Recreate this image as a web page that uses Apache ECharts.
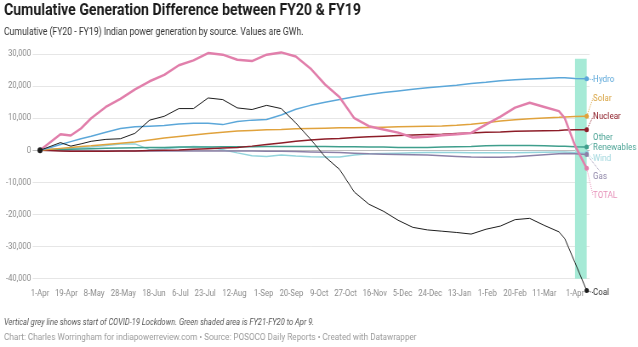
<!DOCTYPE html>
<html><head><meta charset="utf-8">
<script src="https://cdn.jsdelivr.net/npm/echarts@6/dist/echarts.min.js"></script>
<style>
html,body{margin:0;padding:0;background:#fff;overflow:hidden;width:638px;height:347px}
#c{width:750px;height:347px;transform:scaleX(0.850667);transform-origin:0 0;}
</style>
</head><body><div id="c"></div>
<script>
// ---- data ----
const dates = ['2019-04-01','2019-04-08','2019-04-15','2019-04-22','2019-04-29','2019-05-06','2019-05-16','2019-05-26','2019-06-05','2019-06-15','2019-06-25','2019-07-05','2019-07-15','2019-07-25','2019-08-04','2019-08-14','2019-08-24','2019-09-03','2019-09-13','2019-09-23','2019-10-03','2019-10-13','2019-10-23','2019-11-02','2019-11-12','2019-11-22','2019-12-02','2019-12-12','2019-12-22','2020-01-01','2020-01-11','2020-01-21','2020-01-31','2020-02-10','2020-02-20','2020-03-01','2020-03-11','2020-03-21','2020-03-25','2020-04-01','2020-04-09'];
const tickDates = ['2019-04-01','2019-04-19','2019-05-08','2019-05-28','2019-06-18','2019-07-06','2019-07-23','2019-08-12','2019-09-01','2019-09-20','2019-10-09','2019-10-27','2019-11-16','2019-12-05','2019-12-24','2020-01-13','2020-02-01','2020-02-20','2020-03-11','2020-04-01'];
const yTicks = [-40000,-30000,-20000,-10000,0,10000,20000,30000];
const hydro   = [0,900,1800,2700,3600,4400,5600,6800,7300,7500,7700,8200,8400,8400,8000,9000,9400,9600,11000,12800,14000,15000,15800,16700,17400,18000,18500,19000,19500,19900,20300,20800,21200,21700,22000,22200,22400,22600,22600,22400,22300];
const solar   = [0,300,600,900,1200,1400,1800,2200,2600,3200,3800,4300,4800,5200,5600,6000,6200,6400,6500,6700,6800,6900,7000,7000,7100,7200,7300,7400,7500,7600,7800,8100,8600,9100,9500,9800,10100,10300,10400,10500,10600];
const nuclear = [0,-100,-200,-300,-300,-300,-300,-200,-200,-100,0,100,300,500,700,900,1300,1800,2300,2800,3200,3500,3700,4000,4200,4400,4600,4800,4900,5000,5200,5400,5600,5700,5900,6000,6100,6200,6300,6400,6400];
const otherRen= [0,100,200,300,400,500,600,700,800,900,900,1000,1000,1000,1100,1100,1100,1200,1200,1200,1200,1200,1100,1100,1000,1000,900,900,900,1000,1100,1200,1400,1500,1500,1500,1400,1300,1300,1100,1000];
const wind    = [0,300,500,600,800,1000,1500,2000,2000,200,500,900,1200,1000,200,-800,-1700,-1900,-1500,-1800,-2000,-2100,-2100,-1500,-1100,-1000,-900,-800,-700,-700,-700,-800,-800,-800,-800,-700,-600,-500,-500,-700,-850];
const gas     = [0,-100,-100,-200,-200,-200,-200,-200,-200,-200,-200,-200,-200,-200,-200,-200,-200,-300,-300,-400,-500,-600,-700,-900,-1100,-1200,-1300,-1400,-1500,-1700,-1900,-2100,-2200,-2200,-2000,-1700,-1400,-1100,-1000,-1100,-1300];
const total   = [0,2500,5000,4600,6800,10000,13500,16000,19000,21500,23500,26500,28000,30300,29800,28200,27800,29800,30500,29200,25500,20500,16500,10000,7500,6500,5500,4000,4200,4700,5000,5400,8000,10500,13300,14800,13500,12200,10000,1500,-5600];
const coal    = [0,1200,2400,1300,2000,2800,3400,3600,5300,9400,10600,13000,13000,16300,15800,13200,12700,14000,13000,8500,3500,-2000,-6000,-13000,-16800,-19000,-21800,-24000,-24800,-25200,-25600,-26100,-24600,-23600,-21600,-21200,-23400,-25400,-27500,-35000,-43700];
const lockdownDate = '2020-03-25';
const fy21Range = ['2020-04-01','2020-04-09'];
const shadeY = [28500, -44000];

// ---- layout helpers ----
const S = 638/750;
const px = v => v / S;
const MONTHS = ['Jan','Feb','Mar','Apr','May','Jun','Jul','Aug','Sep','Oct','Nov','Dec'];
function ts(s){const p=s.split('-').map(Number);return Date.UTC(p[0],p[1]-1,p[2]);}
const FONT = 'Roboto';
const LX = px(593);

function mk(name, labelText, vals, color, width, labelColor, dy, z, startDot){
  const data = dates.map((d,i)=>[ts(d), vals[i]]);
  const n = data.length-1;
  data[n] = {value: data[n], symbol:'circle', symbolSize:5,
    label:{show:true, position:'right', formatter: labelText, color: labelColor,
      fontFamily: FONT, fontSize: 9.5, lineHeight: 10}};
  if (startDot) data[0] = {value: data[0], symbol:'circle', symbolSize:6};
  return {type:'line', name, data, symbol:'none', showAllSymbol:true, z, clip:false,
    lineStyle:{color, width}, itemStyle:{color},
    labelLayout:{x: LX, dy: dy},
    labelLine:{show:true, lineStyle:{color: labelColor, type:'dotted', width:1}},
    emphasis:{disabled:true}, silent:true};
}

const series = [
  mk('Wind','Wind', wind, '#93d4dc', 1.5, '#9fd6dd', 1, 2),
  mk('Gas','Gas', gas, '#8b80a7', 1.5, '#8f86a8', 17, 2),
  mk('Other Renewables','Other\nRenewables', otherRen, '#3f9e8c', 1.5, '#4ba395', -14, 2),
  mk('Nuclear','Nuclear', nuclear, '#8d1d28', 1.5, '#8d1d28', -18, 2),
  mk('Solar','Solar', solar, '#e0a23c', 1.5, '#d9a545', -23, 2),
  mk('Hydro','Hydro', hydro, '#5ba7d9', 1.5, '#5ba7d9', -4, 2),
  mk('TOTAL','TOTAL', total, '#e17fab', 2.5, '#e690b8', 22, 3),
  mk('Coal','Coal', coal, '#1c1c1c', 1, '#333333', -3, 4, true)
];
series[0].markArea = {silent:true, itemStyle:{color:'#a6ead6', opacity:1},
  data:[[{coord:[ts(fy21Range[0]), shadeY[0]]},{coord:[ts(fy21Range[1]), shadeY[1]]}]]};
series[0].markLine = {silent:true, symbol:'none', label:{show:false},
  lineStyle:{color:'#d2d2d2', width:1.5, type:'solid'},
  data:[[{coord:[ts(lockdownDate), 30000]},{coord:[ts(lockdownDate), shadeY[1]]}]]};

const grid = {left: px(32.7), right: 750 - px(589.6), top: 54, bottom: 347 - 278.7};
const tickTs = tickDates.map(ts);
const gridColors = yTicks.map(v => v === 0 ? '#bdbdbd' : '#e6e6e6');

const option = {
  animation:false,
  grid,
  xAxis:{type:'value', min: ts('2019-03-27'), max: ts('2020-04-11'), scale:true,
    axisLine:{show:false}, axisTick:{show:false, customValues: tickTs},
    splitLine:{show:false},
    axisLabel:{customValues: tickTs, margin: 11, color:'#8a8a8a', fontFamily: FONT, fontSize: 9,
      hideOverlap:false,
      formatter: v => { const d = new Date(v); return d.getUTCDate() + '-' + MONTHS[d.getUTCMonth()]; }}},
  yAxis:{type:'value', min: yTicks[0], max: yTicks[yTicks.length-1], interval: 10000,
    axisLine:{show:false}, axisTick:{show:false},
    splitLine:{show:true, lineStyle:{color: gridColors, width:1}},
    axisLabel:{margin: 2, color:'#8a8a8a', fontFamily: FONT, fontSize: 9,
      formatter: v => (v<0?'-':'') + Math.abs(v).toLocaleString('en-US')}},
  series,
  graphic:[
    {type:'text', x: px(4), y: 2, style:{text:'Cumulative Generation Difference between FY20 & FY19',
      fontFamily: FONT, fontWeight:'bold', fontSize: 16.6, fill:'#1b1b1b', textVerticalAlign:'top'}},
    {type:'text', x: px(4), y: 32, style:{text:'Cumulative (FY20 - FY19) Indian power generation by source. Values are GWh.',
      fontFamily: FONT, fontSize: 10.2, fill:'#333', textVerticalAlign:'middle'}},
    {type:'text', x: px(4), y: 323, style:{text:'Vertical grey line shows start of COVID-19 Lockdown. Green shaded area is FY21-FY20 to Apr 9.',
      fontFamily: FONT, fontStyle:'italic', fontSize: 8.9, fill:'#555', textVerticalAlign:'middle'}},
    {type:'text', x: px(4), y: 338, style:{text:'Chart: Charles Worringham for indiapowerreview.com \u2022 Source: POSOCO Daily Reports \u2022 Created with Datawrapper',
      fontFamily: FONT, fontSize: 9.6, fill:'#9a9a9a', textVerticalAlign:'middle'}}
  ]
};
const chart = echarts.init(document.getElementById('c'), null, {renderer:'canvas'});
chart.setOption(option);
</script>
</body></html>
